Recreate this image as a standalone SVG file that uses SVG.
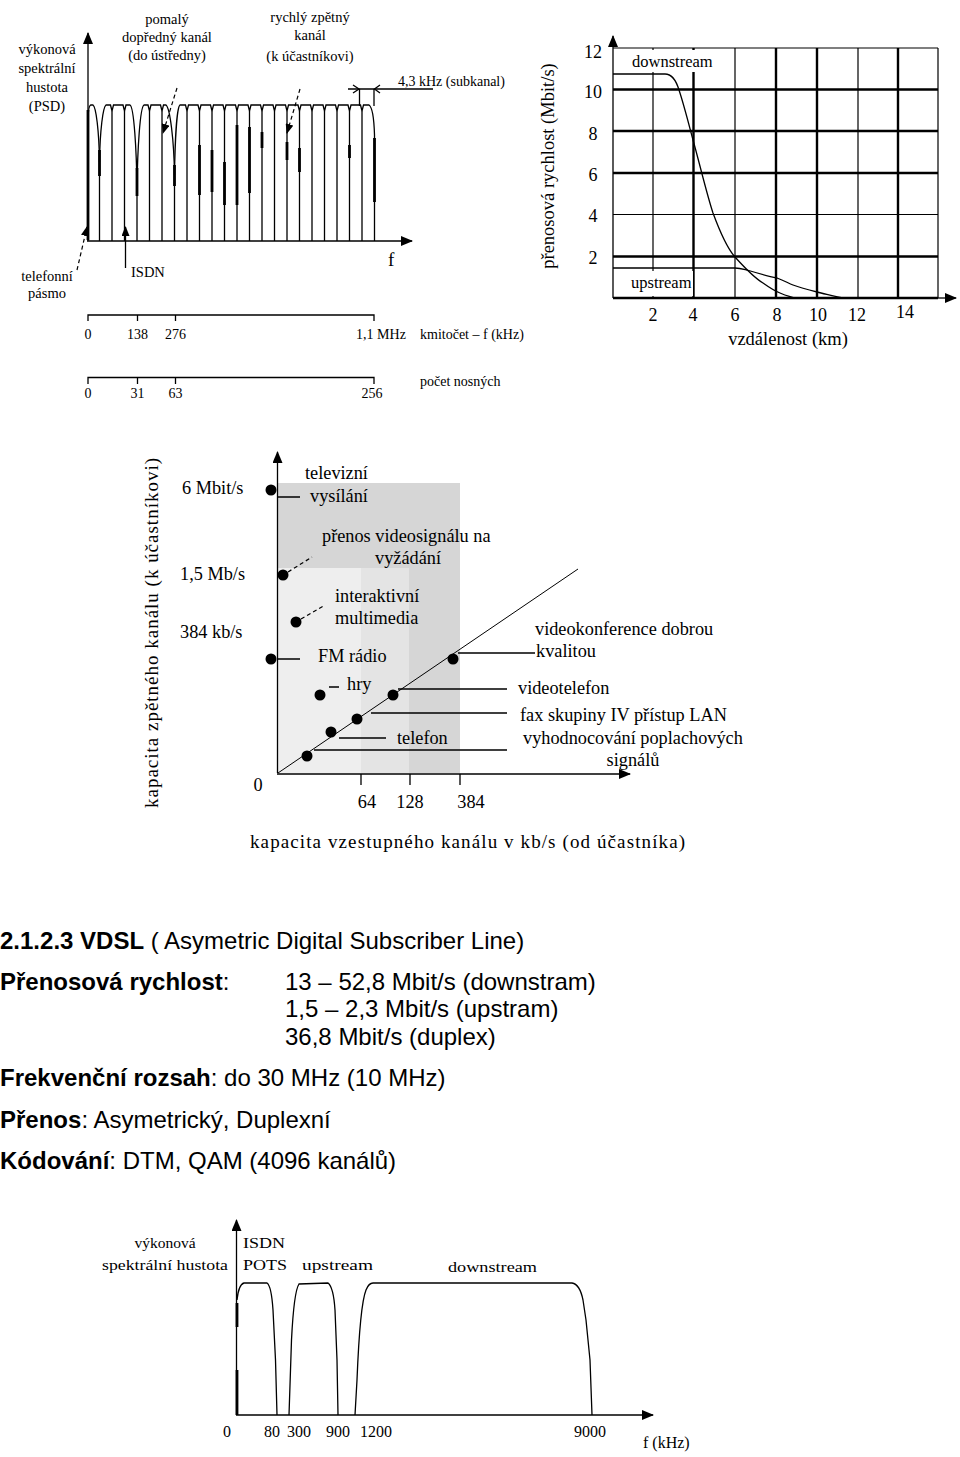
<svg xmlns="http://www.w3.org/2000/svg" width="960" height="1457" viewBox="0 0 960 1457">
<style>
.s{font-family:"Liberation Serif","Times New Roman",serif;fill:#000}
.a{font-family:"Liberation Sans",Arial,sans-serif;fill:#000;font-size:24px}
.ln{stroke:#000;fill:none;stroke-width:1.3}
.th{stroke:#000;fill:none;stroke-width:2.8}
.ds{stroke:#000;fill:none;stroke-width:1.2;stroke-dasharray:4 3}
.g1{stroke:#000;stroke-width:1.2}
.g2{stroke:#000;stroke-width:2.4}
.dot{fill:#000}
</style>
<defs>
<marker id="arr" markerUnits="userSpaceOnUse" markerWidth="12" markerHeight="10" refX="11" refY="5" orient="auto"><path d="M0,0 L12,5 L0,10 z" fill="#000"/></marker>
<marker id="arrs" markerUnits="userSpaceOnUse" markerWidth="10" markerHeight="8" refX="9" refY="4" orient="auto"><path d="M0,0 L10,4 L0,8 z" fill="#000"/></marker>
</defs>
<rect width="960" height="1457" fill="#fff"/>

<!-- ===== Top-left PSD comb ===== -->
<g id="psd-chart">
<line class="ln" x1="88" y1="241" x2="88" y2="33" marker-end="url(#arr)"/>
<line class="ln" x1="87" y1="241" x2="412" y2="241" marker-end="url(#arr)"/>
<path class="ln" d="M88,124 C88,110 89,105 91,105 L93,105 C96,107 99,130 99.5,162"/>
<path class="ln" d="M99.5,162 C100,130 103,107 106,105 L110.5,105 L112,111 L113.5,105 L123,105 L124.5,111 L126,105 L130,105 C134,107 136.5,150 137,188"/>
<path class="ln" d="M137,188 C137.5,150 140,107 144,105 L148,105 L149.5,111 L151,105 L160.5,105 L162,111 L163.5,105 L166,105 C170,108 174,140 174.5,175"/>
<path class="ln" d="M174.5,175 C175,140 177,107 180,105 L185.5,105 L187,111 L188.5,105 L198,105 L199.5,111 L201,105 L210.5,105 L212,111 L213.5,105 L223,105 L224.5,111 L226,105 L235.5,105 L237,111 L238.5,105 L248,105 L249.5,111 L251,105 L260.5,105 L262,111 L263.5,105 L273,105 L274.5,111 L276,105 L285.5,105 L287,111 L288.5,105 L298,105 L299.5,111 L301,105 L310.5,105 L312,111 L313.5,105 L323,105 L324.5,111 L326,105 L335.5,105 L337,111 L338.5,105 L348,105 L349.5,111 L351,105 L360.5,105 L362,111 L363.5,105 L369,105 C372,107 374,118 374.5,135"/>
<path class="ln" d="M99.5,162V241 M112,111V241 M124.5,111V241 M137,188V241 M149.5,111V241 M162,111V241 M174.5,175V241 M187,111V241 M199.5,111V241 M212,111V241 M224.5,111V241 M237,111V241 M249.5,111V241 M262,111V241 M274.5,111V241 M287,111V241 M299.5,111V241 M312,111V241 M324.5,111V241 M337,111V241 M349.5,111V241 M362,111V241 M374.5,135V241"/>
<path class="th" d="M88,110V240 M99.5,150V176 M137,168V196 M174.5,165V186 M199.5,145V195 M212,150V192 M224.5,162V205 M237,125V205 M249.5,127V193 M262,132V148 M287,142V160 M299.5,148V172 M349.5,145V158 M374.5,138V202"/>
<!-- 4,3 kHz marker -->
<line class="ln" x1="348" y1="89" x2="433" y2="89"/>
<line class="ln" x1="359.5" y1="89" x2="359.5" y2="106"/>
<line class="ln" x1="374" y1="89" x2="374" y2="106"/>
<path class="ln" d="M353,85 L359,89 L353,93 M380,85 L374.5,89 L380,93"/>
<!-- pointers -->
<line class="ds" x1="177" y1="88" x2="163" y2="133" marker-end="url(#arrs)"/>
<line class="ds" x1="300" y1="89" x2="287" y2="133" marker-end="url(#arrs)"/>
<line class="ds" x1="77" y1="270" x2="87" y2="227" marker-end="url(#arrs)"/>
<line class="ln" x1="125.5" y1="268" x2="125.5" y2="227" marker-end="url(#arrs)"/>
<!-- labels -->
<g class="s" font-size="14.5" text-anchor="middle">
<text x="47" y="54">výkonová</text>
<text x="47" y="73">spektrální</text>
<text x="47" y="92">hustota</text>
<text x="47" y="111">(PSD)</text>
<text x="167" y="24">pomalý</text>
<text x="167" y="42">dopředný kanál</text>
<text x="167" y="60">(do ústředny)</text>
<text x="310" y="22">rychlý zpětný</text>
<text x="310" y="40">kanál</text>
<text x="310" y="61">(k účastníkovi)</text>
<text x="47" y="281">telefonní</text>
<text x="47" y="298">pásmo</text>
</g>
<text class="s" font-size="14.5" x="131" y="277">ISDN</text>
<text class="s" font-size="14" x="398" y="86">4,3 kHz (subkanal)</text>
<text class="s" font-size="19" x="388" y="266">f</text>
</g>

<!-- ===== Scales under PSD ===== -->
<g id="freq-scale">
<path class="ln" d="M88,321V315H374V321 M137.5,315V321 M175.5,315V321"/>
<g class="s" font-size="14" text-anchor="middle">
<text x="88" y="339">0</text>
<text x="137.5" y="339">138</text>
<text x="175.5" y="339">276</text>
<text x="381" y="339">1,1 MHz</text>
</g>
<text class="s" font-size="14" x="420" y="339">kmitočet – f (kHz)</text>
</g>
<g id="carrier-scale">
<path class="ln" d="M88,384V377.5H374V384 M137.5,377.5V384 M175.5,377.5V384"/>
<g class="s" font-size="14" text-anchor="middle">
<text x="88" y="398">0</text>
<text x="137.5" y="398">31</text>
<text x="175.5" y="398">63</text>
<text x="372" y="398">256</text>
</g>
<text class="s" font-size="14" x="420" y="386">počet nosných</text>
</g>

<!-- ===== Top-right rate vs distance ===== -->
<g id="rate-chart">
<path class="g1" d="M653,48V298 M735,48V298 M858,48V298 M938,48V298 M613,48H938 M613,214.5H938"/>
<path class="g2" d="M693.5,48V298 M776,48V298 M817,48V298 M898,48V298 M613,89.5H938 M613,131H938 M613,173H938 M613,256.5H938 M613,298H938"/>
<rect x="615" y="50" width="104" height="22" fill="#fff"/>
<rect x="615" y="271" width="78" height="25" fill="#fff"/>
<line class="ln" x1="613" y1="298" x2="613" y2="36" marker-end="url(#arr)"/>
<line class="ln" x1="938" y1="298" x2="956" y2="298" marker-end="url(#arr)"/>
<path class="ln" d="M613,74 L665,74 C672,74 676,80 679,90 C684,105 689,125 693,140 C700,165 707,195 713,213 C720,232 727,248 735,257 C745,268 753,277 763,283 C770,288 775,291 780,293 C787,296 792,297.5 797,298"/>
<path class="ln" d="M613,268 L735,268 C740,268 743,269 747,270 C757,273 767,276 777,278 C783,280 788,283 793,285 C801,288 809,290 817,292 C826,294 835,297 843,298"/>
<g class="s" font-size="18" text-anchor="middle">
<text x="593" y="58">12</text>
<text x="593" y="98">10</text>
<text x="593" y="140">8</text>
<text x="593" y="181">6</text>
<text x="593" y="222">4</text>
<text x="593" y="264">2</text>
<text x="653" y="321">2</text>
<text x="693" y="321">4</text>
<text x="735" y="321">6</text>
<text x="777" y="321">8</text>
<text x="818" y="321">10</text>
<text x="857" y="321">12</text>
<text x="905" y="318">14</text>
<text x="788" y="345" font-size="18.5">vzdálenost (km)</text>
<text transform="translate(554,166) rotate(-90)" font-size="18.5">přenosová rychlost (Mbit/s)</text>
</g>
<text class="s" font-size="16.5" x="632" y="67">downstream</text>
<text class="s" font-size="16.5" x="631" y="288">upstream</text>
</g>

<!-- ===== Middle: services chart ===== -->
<g id="services-chart">
<rect x="278" y="483" width="182" height="290" fill="#d6d6d6"/>
<rect x="278" y="568" width="131" height="205" fill="#eeeeee"/>
<rect x="361" y="568" width="48" height="205" fill="#e4e4e4"/>
<line class="ln" x1="277.5" y1="773" x2="277.5" y2="452" marker-end="url(#arr)"/>
<line class="ln" x1="277" y1="774" x2="630" y2="774" marker-end="url(#arr)"/>
<path class="ln" d="M361,774V785 M410,774V785 M460,774V785"/>
<line x1="278" y1="773" x2="578" y2="569" stroke="#000" stroke-width="1"/>
</g>
<g id="connectors">
<path class="ln" d="M278,497H300 M278,659H300 M458,653H535 M329,687H339 M398,689H507 M371,713H507 M339,738H386 M314,750H507"/>
<path class="ds" d="M288,572L312,557 M301,619L325,605"/>
</g>
<g id="service-dots">
<circle class="dot" cx="271" cy="490" r="5.5"/>
<circle class="dot" cx="283" cy="575" r="5.5"/>
<circle class="dot" cx="296" cy="622" r="5.5"/>
<circle class="dot" cx="271" cy="659" r="5.5"/>
<circle class="dot" cx="453" cy="659" r="5.5"/>
<circle class="dot" cx="320" cy="695" r="5.5"/>
<circle class="dot" cx="393" cy="695" r="5.5"/>
<circle class="dot" cx="357" cy="719" r="5.5"/>
<circle class="dot" cx="331" cy="732" r="5.5"/>
<circle class="dot" cx="307" cy="756" r="5.5"/>
</g>
<g id="service-labels" class="s" font-size="18.3">
<text x="182" y="494">6 Mbit/s</text>
<text x="180" y="580">1,5 Mb/s</text>
<text x="180" y="638">384 kb/s</text>
<text x="305" y="479">televizní</text>
<text x="310" y="502">vysílání</text>
<text x="322" y="542">přenos videosignálu na</text>
<text x="375" y="564">vyžádání</text>
<text x="335" y="602">interaktivní</text>
<text x="335" y="624">multimedia</text>
<text x="318" y="662">FM rádio</text>
<text x="347" y="690">hry</text>
<text x="535" y="635">videokonference dobrou</text>
<text x="536" y="657">kvalitou</text>
<text x="518" y="694">videotelefon</text>
<text x="520" y="721">fax skupiny IV přístup LAN</text>
<text x="523" y="744">vyhodnocování poplachových</text>
<text x="633" y="766" text-anchor="middle">signálů</text>
<text x="397" y="744">telefon</text>
<text x="258" y="791" text-anchor="middle">0</text>
<text x="367" y="808" text-anchor="middle">64</text>
<text x="410" y="808" text-anchor="middle">128</text>
<text x="471" y="808" text-anchor="middle">384</text>
<text x="250" y="848" font-size="19" textLength="435" lengthAdjust="spacing">kapacita vzestupného kanálu v kb/s (od účastníka)</text>
<text transform="translate(158,808) rotate(-90)" font-size="19" textLength="350" lengthAdjust="spacing">kapacita zpětného kanálu (k účastníkovi)</text>
</g>

<!-- ===== Text section ===== -->
<g id="vdsl-text" class="a">
<text x="0" y="948.5"><tspan font-weight="bold">2.1.2.3 VDSL</tspan> ( Asymetric Digital Subscriber Line)</text>
<text x="0" y="989.5"><tspan font-weight="bold">Přenosová rychlost</tspan>:</text>
<text x="285" y="989.5">13 – 52,8 Mbit/s (downstram)</text>
<text x="285" y="1016.5">1,5 – 2,3 Mbit/s (upstram)</text>
<text x="285" y="1044.5">36,8 Mbit/s (duplex)</text>
<text x="0" y="1085.5"><tspan font-weight="bold">Frekvenční rozsah</tspan>: do 30 MHz (10 MHz)</text>
<text x="0" y="1127.5"><tspan font-weight="bold">Přenos</tspan>: Asymetrický, Duplexní</text>
<text x="0" y="1168.5"><tspan font-weight="bold">Kódování</tspan>: DTM, QAM (4096 kanálů)</text>
</g>

<!-- ===== Bottom VDSL spectrum ===== -->
<g id="vdsl-spectrum">
<line class="ln" x1="236.5" y1="1415" x2="236.5" y2="1220" marker-end="url(#arr)"/>
<line class="ln" x1="236" y1="1415" x2="653" y2="1415" marker-end="url(#arr)"/>
<path class="th" d="M237,1303V1327 M237,1370V1415"/>
<path class="ln" d="M237,1300 C238,1290 240,1284 244,1283 L267,1283 C270,1285 272,1295 273,1310 L275.5,1360 L277,1415"/>
<path class="ln" d="M289,1415 L291.5,1340 C293,1310 295,1290 299,1284 L328,1283 C332,1286 334,1295 335,1310 L337,1360 L338,1415"/>
<path class="ln" d="M355,1415 L357,1380 C359,1330 362,1300 366,1290 C368,1285 370,1283 373,1283 L572,1283 C578,1284 581,1290 583,1300 L586,1320 L590,1360 L592,1415"/>
<g class="s" font-size="15.5">
<text x="165" y="1248" text-anchor="middle">výkonová</text>
<text x="102" y="1270" textLength="126" lengthAdjust="spacingAndGlyphs">spektrální hustota</text>
<text x="243" y="1248" textLength="42" lengthAdjust="spacingAndGlyphs">ISDN</text>
<text x="243" y="1270" textLength="44" lengthAdjust="spacingAndGlyphs">POTS</text>
<text x="302" y="1270" textLength="71" lengthAdjust="spacingAndGlyphs">upstream</text>
<text x="448" y="1272" textLength="89" lengthAdjust="spacingAndGlyphs">downstream</text>
</g>
<g class="s" font-size="16" text-anchor="middle">
<text x="227" y="1437">0</text>
<text x="272" y="1437">80</text>
<text x="299" y="1437">300</text>
<text x="338" y="1437">900</text>
<text x="376" y="1437">1200</text>
<text x="590" y="1437">9000</text>
</g>
<text class="s" font-size="16" x="643" y="1448">f (kHz)</text>
</g>
</svg>
